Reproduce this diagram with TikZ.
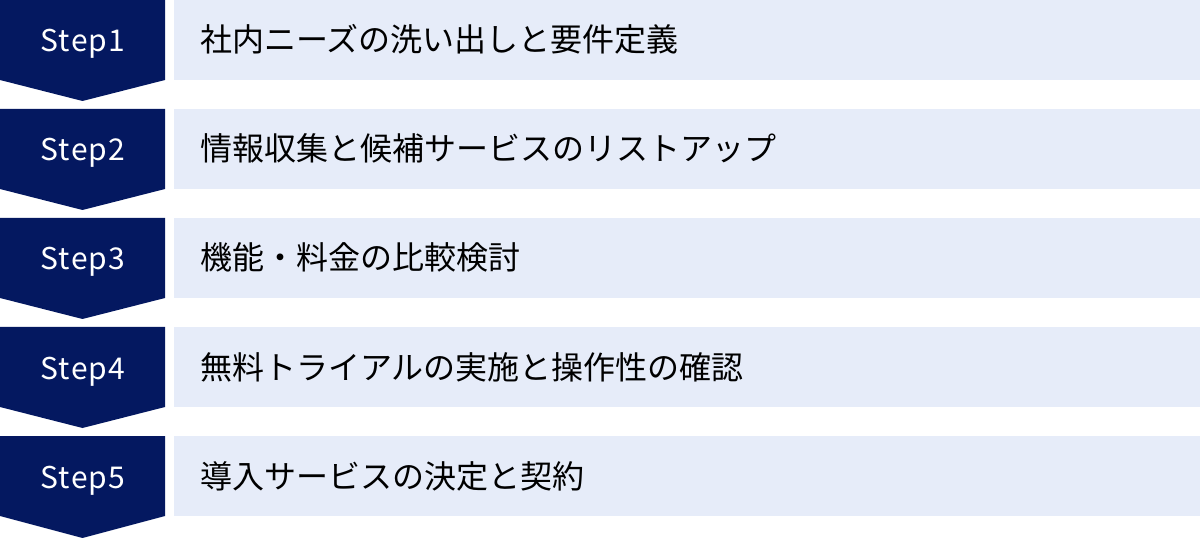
\documentclass[tikz,border=0pt]{standalone}
\usepackage{fontspec}
\setmainfont{Noto Sans CJK JP}
\newfontfamily\stepfont[LetterSpace=4]{Noto Sans CJK JP}
\usepackage{tikz}
\usetikzlibrary{positioning,calc}
\usepackage{xcolor}
\definecolor{stnavy}{RGB}{4,24,96}
\definecolor{stlight}{RGB}{230,236,249}
\tikzstyle{stepshape} = [fill=stnavy]
\tikzstyle{steplabel} = [anchor=base, text=white, font=\stepfont\fontsize{22.5}{27}\selectfont, inner sep=0pt]
\tikzstyle{taskbox} = [fill=stlight]
\tikzstyle{tasktext} = [anchor=base west, text=black, font=\fontsize{24}{29}\selectfont, inner sep=0pt]

\begin{document}
\begin{tikzpicture}[x=0.75pt, y=-0.75pt]
    \useasboundingbox (0,0) rectangle (1200,538);

    % Step 1
    \fill[stepshape] (0,0) -- (165,0) -- (165,80) -- (82.5,101) -- (0,80) -- cycle;
    \fill[taskbox] (174,0) rectangle (1200,80);
    \node[steplabel] (s1) at (83,52) {Step1};
    \node[tasktext] (t1) at (200,52) {社内ニーズの洗い出しと要件定義};

    % Step 2
    \fill[stepshape] (0,109) -- (165,109) -- (165,189) -- (82.5,210) -- (0,189) -- cycle;
    \fill[taskbox] (174,109) rectangle (1200,189);
    \node[steplabel] (s2) at (83,161) {Step2};
    \node[tasktext] (t2) at (200,161) {情報収集と候補サービスのリストアップ};

    % Step 3
    \fill[stepshape] (0,218) -- (165,218) -- (165,298) -- (82.5,319) -- (0,298) -- cycle;
    \fill[taskbox] (174,218) rectangle (1200,298);
    \node[steplabel] (s3) at (83,270) {Step3};
    \node[tasktext] (t3) at (200,270) {機能・料金の比較検討};

    % Step 4
    \fill[stepshape] (0,327) -- (165,327) -- (165,407) -- (82.5,428) -- (0,407) -- cycle;
    \fill[taskbox] (174,327) rectangle (1200,407);
    \node[steplabel] (s4) at (83,379) {Step4};
    \node[tasktext] (t4) at (200,379) {無料トライアルの実施と操作性の確認};

    % Step 5
    \fill[stepshape] (0,436) -- (165,436) -- (165,516) -- (82.5,538) -- (0,516) -- cycle;
    \fill[taskbox] (174,436) rectangle (1200,516);
    \node[steplabel] (s5) at (83,488) {Step5};
    \node[tasktext] (t5) at (200,488) {導入サービスの決定と契約};
\end{tikzpicture}
\end{document}
